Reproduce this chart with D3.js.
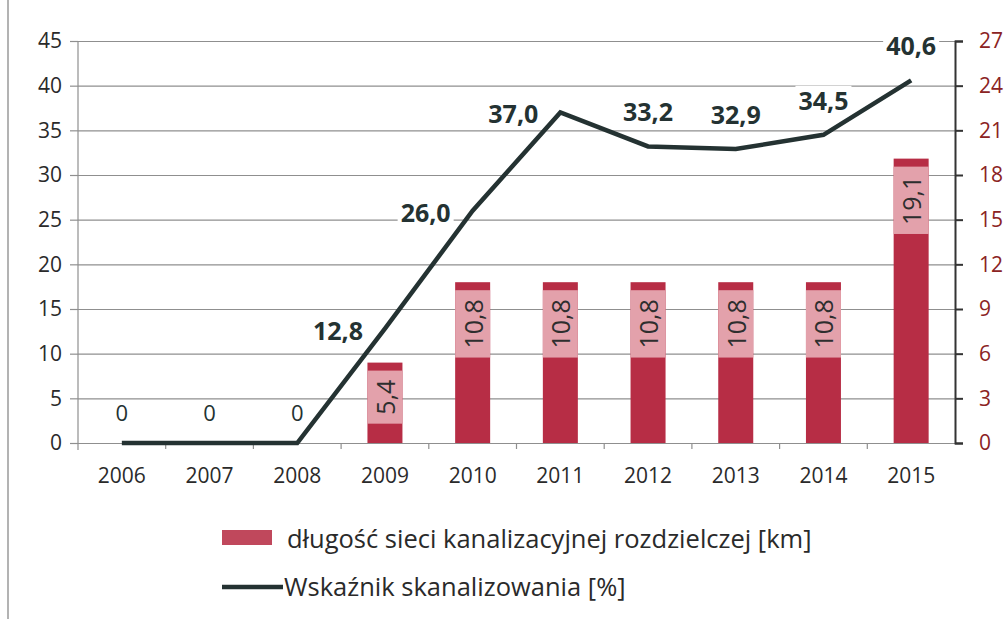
<!DOCTYPE html>
<html>
<head>
<meta charset="utf-8">
<script src="https://cdn.jsdelivr.net/npm/d3@7"></script>
<style>
  html, body { margin: 0; padding: 0; background: #fff; }
  svg { display: block; font-family: "Open Sans", Lato, sans-serif; }
</style>
</head>
<body>
<div id="chart"></div>
<script>
// dane z wykresu
const years = ['2006', '2007', '2008', '2009', '2010', '2011', '2012', '2013', '2014', '2015'];
const sewerKm = [null, null, null, 5.4, 10.8, 10.8, 10.8, 10.8, 10.8, 19.1];   // oś prawa
const sewerRate = [0, 0, 0, 12.8, 26.0, 37.0, 33.2, 32.9, 34.5, 40.6];        // oś lewa
const leftTicks = [0, 5, 10, 15, 20, 25, 30, 35, 40, 45];
const rightTicks = [0, 3, 6, 9, 12, 15, 18, 21, 24, 27];
const rateLabelSide = ['above', 'above', 'above', 'left', 'left', 'left', 'above', 'above', 'above', 'above'];
const legendNames = ['długość sieci kanalizacyjnej rozdzielczej [km]', 'Wskaźnik skanalizowania [%]'];

const W = 1008, H = 619;
const plot = { left: 78, right: 955, top: 41, bottom: 443 };
const fmt = v => d3.format('.1f')(v).replace('.', ',');

const svg = d3.select('#chart').append('svg')
    .attr('width', W)
    .attr('height', H);

const x = d3.scaleBand().domain(years).range([plot.left, plot.right]);
const yL = d3.scaleLinear().domain([0, 45]).range([plot.bottom, plot.top]);
const yR = d3.scaleLinear().domain([0, 27]).range([plot.bottom, plot.top]);

// ramka z lewej (skan)
svg.append('line')
    .attr('x1', 8).attr('x2', 8).attr('y1', 0).attr('y2', H)
    .style('stroke', '#9a9a9a').style('stroke-width', 1.5);

// siatka + lewa oś
const leftAxis = svg.append('g')
    .attr('transform', `translate(${plot.left},0)`)
    .call(d3.axisLeft(yL).tickValues(leftTicks).tickSize(8).tickPadding(8))
    .call(g => g.select('.domain').remove());
leftAxis.selectAll('.tick line').clone()
    .attr('x2', plot.right - plot.left)
    .style('stroke', '#8f8f8f').style('stroke-width', 1.2);
leftAxis.selectAll('.tick line').style('stroke', '#8f8f8f').style('stroke-width', 1.2);
leftAxis.selectAll('text')
    .style('font-size', '21px').style('fill', '#2a2a2a')
    .style('font-family', '"Open Sans", sans-serif');

svg.append('line')
    .attr('x1', plot.left).attr('x2', plot.left)
    .attr('y1', plot.top).attr('y2', plot.bottom + 7)
    .style('stroke', '#8f8f8f').style('stroke-width', 1.2);

// oś X
const xAxis = svg.append('g')
    .attr('transform', `translate(0,${plot.bottom})`)
    .call(d3.axisBottom(x).tickSize(0).tickPadding(25));
xAxis.select('.domain').style('stroke', '#8f8f8f').style('stroke-width', 1.2);
xAxis.selectAll('text')
    .style('font-size', '21px').style('fill', '#2a2a2a')
    .style('font-family', '"Open Sans", sans-serif');
xAxis.selectAll('.sep')
    .data(years.slice(1))
    .join('line')
    .attr('class', 'sep')
    .attr('x1', d => x(d)).attr('x2', d => x(d))
    .attr('y1', 0).attr('y2', 6)
    .style('stroke', '#8f8f8f').style('stroke-width', 1.2);

// prawa oś
const rightAxis = svg.append('g')
    .attr('transform', `translate(${plot.right},0)`)
    .call(d3.axisRight(yR).tickValues(rightTicks).tickSize(8).tickPadding(16));
rightAxis.select('.domain').style('stroke', '#333').style('stroke-width', 2);
rightAxis.selectAll('.tick line').style('stroke', '#333').style('stroke-width', 2);
rightAxis.selectAll('text')
    .style('font-size', '21px').style('fill', '#8b2323')
    .style('font-family', '"Open Sans", sans-serif');

// słupki
const barW = 35;
const barData = years.map((y, i) => ({ year: y, v: sewerKm[i] })).filter(d => d.v != null);

const bars = svg.append('g').selectAll('g')
    .data(barData)
    .join('g')
    .attr('transform', d => `translate(${x(d.year) + x.bandwidth() / 2},0)`);

bars.append('rect')
    .attr('x', -barW / 2)
    .attr('width', barW)
    .attr('y', d => yR(d.v))
    .attr('height', d => yR(0) - yR(d.v))
    .style('fill', '#b72d45');

// etykiety słupków (obrócone, z jasnym tłem)
bars.each(function (d) {
    const g = d3.select(this);
    const lbl = g.append('text')
        .text(fmt(d.v))
        .attr('text-anchor', 'middle')
        .attr('dominant-baseline', 'central')
        .style('font-size', '25px')
        .style('fill', '#2e2e2e');
    const len = lbl.node().getComputedTextLength();
    const boxH = len + 18;
    const top = yR(d.v) + 8;
    g.insert('rect', 'text')
        .attr('x', -barW / 2).attr('width', barW)
        .attr('y', top).attr('height', boxH)
        .style('fill', '#e3a1ab');
    lbl.attr('transform', `translate(0,${top + boxH / 2}) rotate(-90)`);
});

// linia
const line = d3.line()
    .x((d, i) => x(years[i]) + x.bandwidth() / 2)
    .y(d => yL(d));

// etykiety linii
const rateLabels = svg.append('g').selectAll('g')
    .data(sewerRate.map((v, i) => ({ v, i })))
    .join('g');

rateLabels.each(function (d) {
    const g = d3.select(this);
    const px = x(years[d.i]) + x.bandwidth() / 2;
    const py = yL(d.v);
    const zero = d.v === 0;
    const t = g.append('text')
        .text(zero ? '0' : fmt(d.v))
        .attr('dominant-baseline', 'central')
        .style('font-size', zero ? '22px' : '25px')
        .style('font-weight', zero ? 400 : 700)
        .style('fill', '#243232');
    if (rateLabelSide[d.i] === 'left') {
        t.attr('text-anchor', 'end').attr('x', px - 22).attr('y', py + 1);
    } else {
        t.attr('text-anchor', 'middle').attr('x', px).attr('y', py - (zero ? 31 : 35));
    }
    const bb = t.node().getBBox();
    g.insert('rect', 'text')
        .attr('x', bb.x - 3).attr('y', bb.y + 3)
        .attr('width', bb.width + 6).attr('height', bb.height - 6)
        .style('fill', '#fff');
});

svg.append('path')
    .datum(sewerRate)
    .attr('d', line)
    .style('fill', 'none')
    .style('stroke', '#243232')
    .style('stroke-width', 4.5)
    .style('stroke-linejoin', 'miter');

// legenda
const legend = svg.append('g');
legend.append('rect')
    .attr('x', 222).attr('y', 530).attr('width', 50).attr('height', 15)
    .style('fill', '#c0485c');
legend.append('text')
    .attr('x', 287).attr('y', 538)
    .attr('dominant-baseline', 'central')
    .style('font-size', '25.5px').style('fill', '#2a2a2a')
    .text(legendNames[0]);
legend.append('line')
    .attr('x1', 222).attr('x2', 283).attr('y1', 587).attr('y2', 587)
    .style('stroke', '#243232').style('stroke-width', 4.5);
legend.append('text')
    .attr('x', 284).attr('y', 586)
    .attr('dominant-baseline', 'central')
    .style('font-size', '25.5px').style('fill', '#2a2a2a')
    .text(legendNames[1]);
</script>
</body>
</html>
